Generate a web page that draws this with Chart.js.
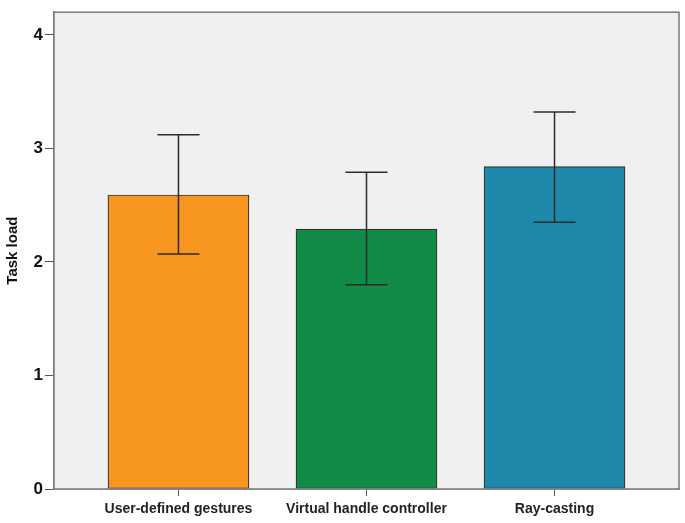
<!DOCTYPE html>
<html>
<head>
<meta charset="utf-8">
<script src="https://cdn.jsdelivr.net/npm/chart.js@4"></script>
<style>
  html, body { margin: 0; padding: 0; background: #fff; }
  #wrap { width: 685px; height: 523px; }
</style>
</head>
<body>
<div id="wrap"><canvas id="c" width="685" height="523"></canvas></div>
<script>
// data
const CATEGORIES = ['User-defined gestures', 'Virtual handle controller', 'Ray-casting'];
const MEANS = [2.59, 2.29, 2.84];
const ERR_LOW = [2.07, 1.80, 2.35];
const ERR_HIGH = [3.12, 2.79, 3.32];
const Y_TICKS = [0, 1, 2, 3, 4];
const BAR_COLORS = ['#F7961E', '#138B48', '#1E88AA'];

const FRAME = '#7a7a7a';

// plot background + frame
const frame = {
  id: 'frame',
  beforeDatasetsDraw(chart) {
    const {ctx, chartArea: a} = chart;
    ctx.save();
    ctx.fillStyle = '#F0F0F0';
    ctx.fillRect(a.left, a.top, a.right - a.left, a.bottom - a.top);
    ctx.restore();
  },
  afterDraw(chart) {
    const {ctx, chartArea: a} = chart;
    ctx.save();
    ctx.strokeStyle = FRAME; ctx.lineWidth = 1.5;
    ctx.strokeRect(a.left, a.top, a.right - a.left, a.bottom - a.top);
    ctx.restore();
  }
};

// error bars from ERR_LOW / ERR_HIGH
const errBars = {
  id: 'errBars',
  afterDatasetsDraw(chart) {
    const {ctx, scales: {x, y}} = chart;
    ctx.save();
    ctx.strokeStyle = '#2b2b2b'; ctx.lineWidth = 1.5;
    CATEGORIES.forEach((_, i) => {
      const cx = x.getPixelForValue(i + 1), yl = y.getPixelForValue(ERR_LOW[i]), yh = y.getPixelForValue(ERR_HIGH[i]);
      ctx.beginPath();
      ctx.moveTo(cx, yl); ctx.lineTo(cx, yh);
      ctx.moveTo(cx - 21, yh); ctx.lineTo(cx + 21, yh);
      ctx.moveTo(cx - 21, yl); ctx.lineTo(cx + 21, yl);
      ctx.stroke();
    });
    ctx.restore();
  }
};

new Chart(document.getElementById('c'), {
  type: 'bar',
  data: {
    datasets: [{
      data: MEANS.map((v, i) => ({x: i + 1, y: v})),
      backgroundColor: BAR_COLORS,
      borderColor: '#333',
      borderWidth: 1.2,
      borderSkipped: false,
      barThickness: 141
    }]
  },
  options: {
    responsive: false,
    animation: false,
    layout: {padding: {top: 5, right: 6, left: 0, bottom: 0}},
    plugins: {legend: {display: false}, tooltip: {enabled: false}},
    scales: {
      x: {
        type: 'linear', min: 0.338, max: 3.662, offset: false,
        afterBuildTicks: s => { s.ticks = CATEGORIES.map((_, i) => ({value: i + 1})); },
        afterFit: s => { s.height = 34; },
        grid: {drawOnChartArea: false, offset: false, tickLength: 7, color: '#555', tickColor: '#555'},
        border: {color: FRAME, width: 1.5},
        ticks: {
          callback: v => CATEGORIES[v - 1],
          color: '#222', maxRotation: 0, autoSkip: false, padding: 5,
          font: {family: "'Liberation Sans Narrow', 'Arial Narrow', Arial, sans-serif", size: 14, weight: 'bold'}
        }
      },
      y: {
        min: 0, max: 4.2,
        afterBuildTicks: s => { s.ticks = Y_TICKS.map(v => ({value: v})); },
        afterFit: s => { s.width = 54; },
        grid: {drawOnChartArea: false, tickLength: 9, color: '#555', tickColor: '#555'},
        border: {color: FRAME, width: 1.5},
        title: {display: true, text: 'Task load', color: '#111', padding: {top: 4, bottom: 2},
          font: {family: 'Arial, "Liberation Sans", sans-serif', size: 15, weight: 'bold'}},
        ticks: {
          color: '#111', padding: 2,
          font: {family: 'Arial, "Liberation Sans", sans-serif', size: 17, weight: 'bold'}
        }
      }
    }
  },
  plugins: [frame, errBars]
});
</script>
</body>
</html>
